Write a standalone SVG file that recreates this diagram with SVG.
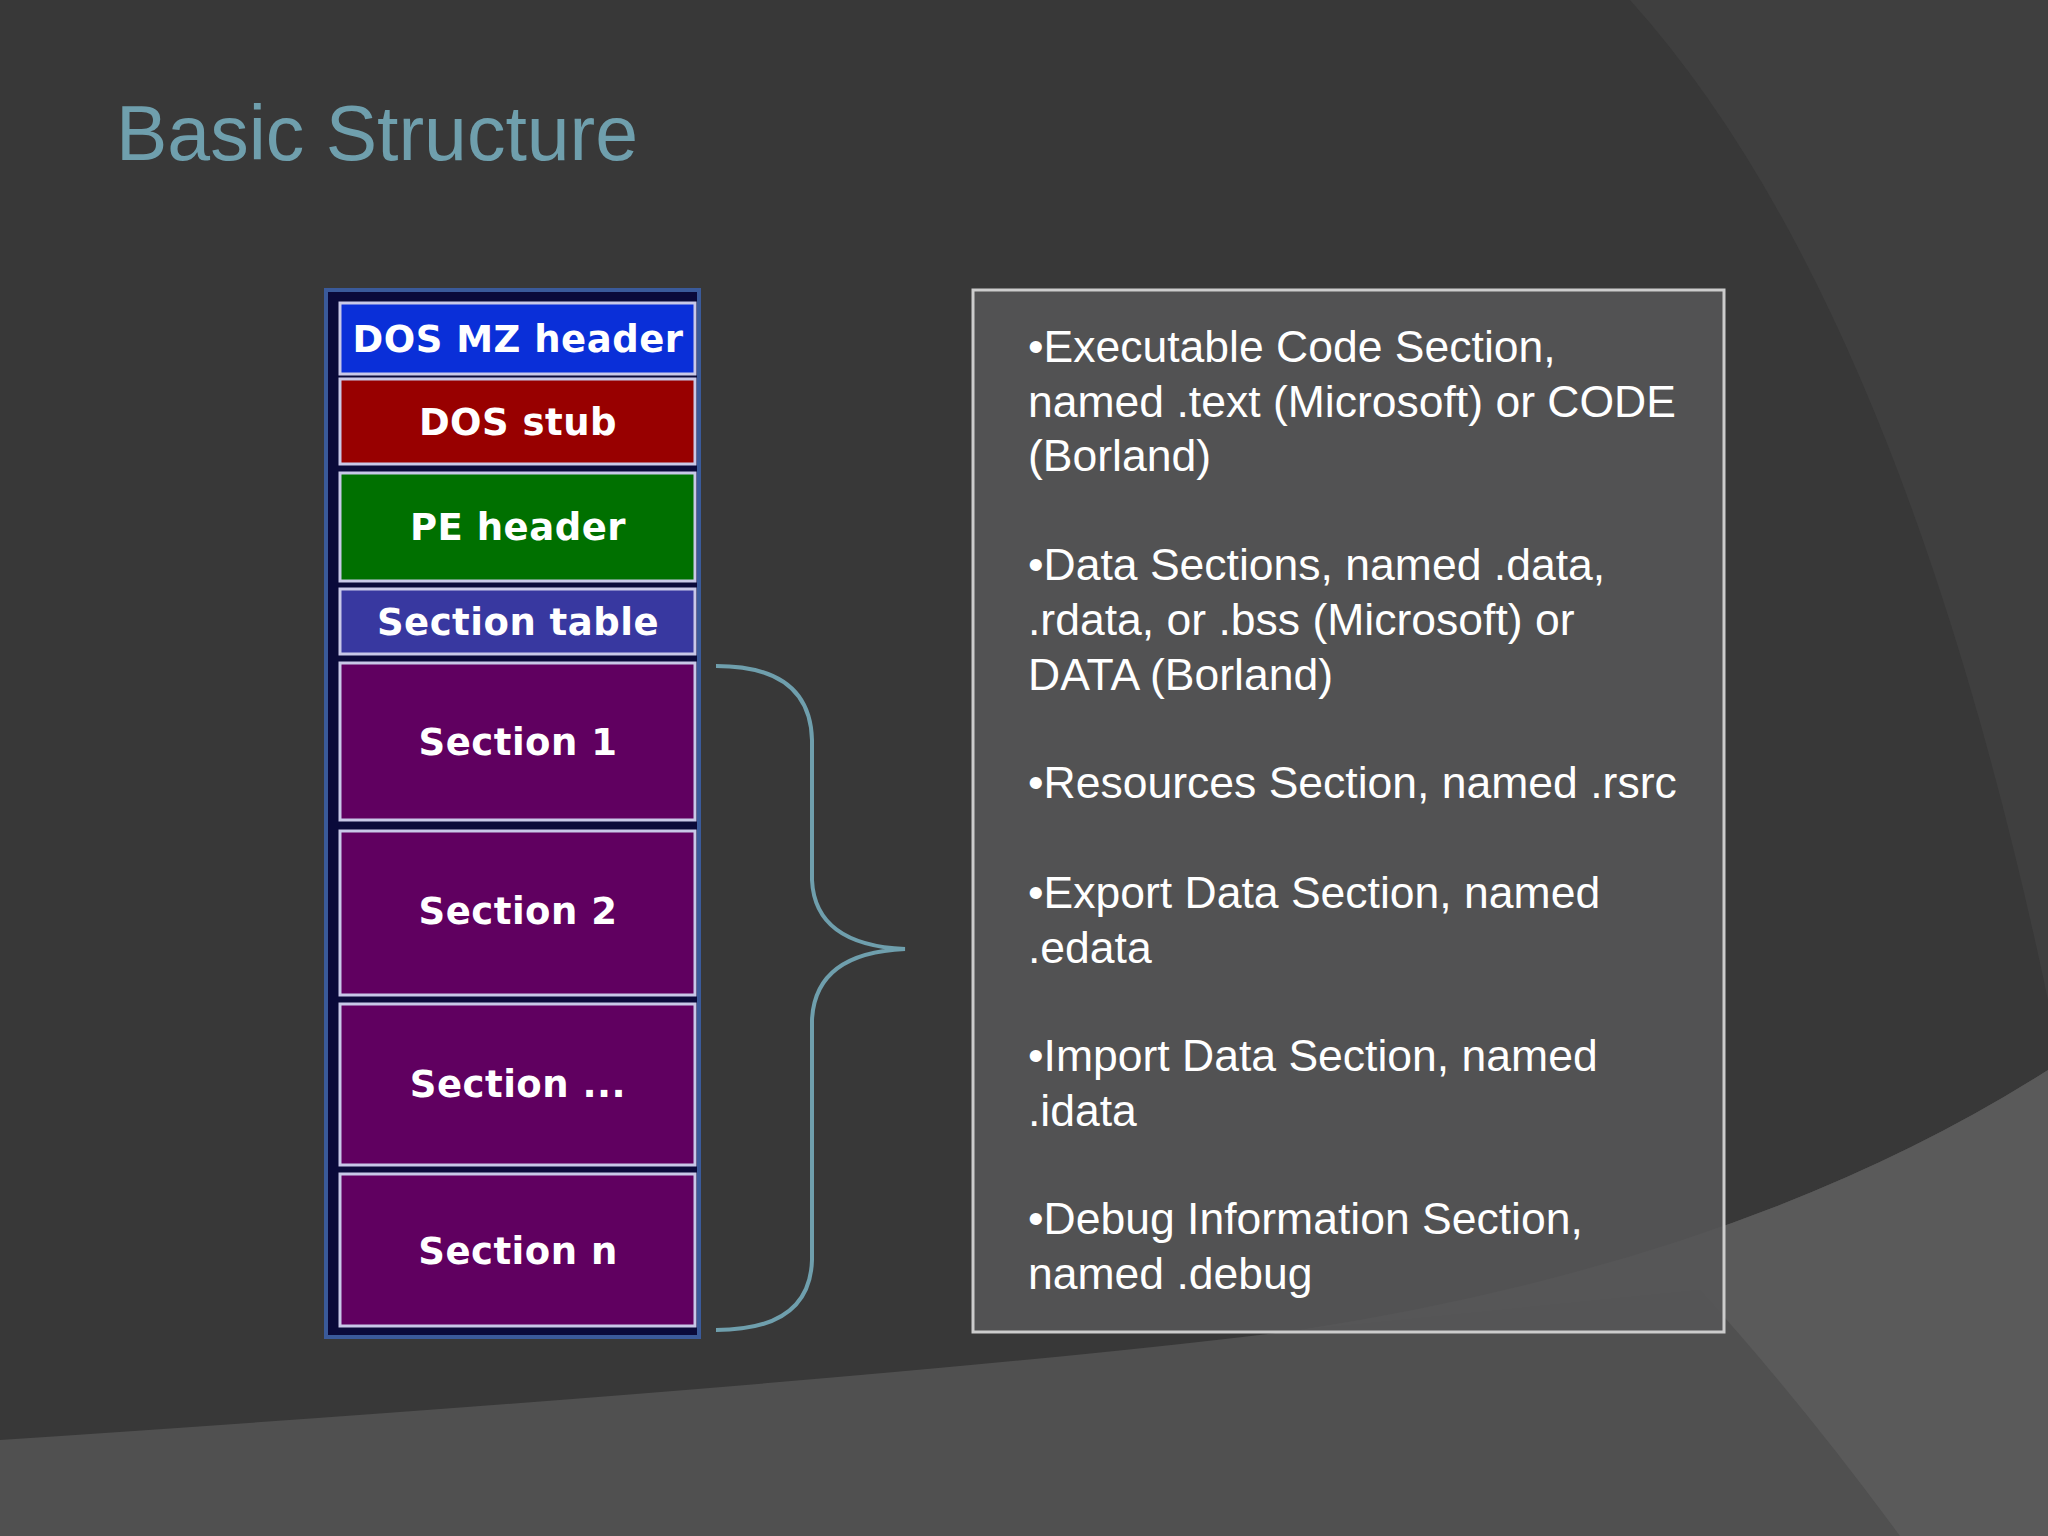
<svg xmlns="http://www.w3.org/2000/svg" width="2048" height="1536" viewBox="0 0 2048 1536">
<style>
.bx{stroke:#c8c8e8;stroke-width:3}
.bl{font-family:"DejaVu Sans",sans-serif;font-weight:bold;font-size:37px;fill:#fff;text-anchor:middle;letter-spacing:0.5px}
.rt{font-family:"Liberation Sans",Arial,sans-serif;font-size:44.5px;fill:#fff}
</style>
<rect width="2048" height="1536" fill="#383838"/>
<path d="M1630 0 Q1900 300 2048 1000 L2048 0 Z" fill="#3f3f3f"/>
<path d="M0 1440 Q900 1380 1300 1330 Q1750 1260 2048 1070 L2048 1536 L0 1536 Z" fill="#505050"/>
<path d="M1300 1330 Q1750 1260 2048 1070 L2048 1536 L1900 1536 Q1800 1400 1700 1290 Z" fill="#5a5a5a"/>
<text x="116" y="160" font-family="'Liberation Sans',Arial,sans-serif" font-size="77" fill="#6f9fad">Basic Structure</text>
<g id="stack">
<rect x="326" y="290" width="373" height="1047" fill="#0a0a3a" stroke="#3a5a9a" stroke-width="4"/>
<g id="mz"><rect class="bx" x="340" y="303" width="355" height="71" fill="#0a2fd8"/><text class="bl" x="518" y="352">DOS MZ header</text></g>
<g id="stub"><rect class="bx" x="340" y="379" width="355" height="85" fill="#980000"/><text class="bl" x="518" y="435">DOS stub</text></g>
<g id="pe"><rect class="bx" x="340" y="473" width="355" height="108" fill="#007000"/><text class="bl" x="518" y="540">PE header</text></g>
<g id="st"><rect class="bx" x="340" y="589" width="355" height="65" fill="#3838a0"/><text class="bl" x="518" y="635">Section table</text></g>
<g id="s1"><rect class="bx" x="340" y="663" width="355" height="157" fill="#600060"/><text class="bl" x="518" y="755">Section 1</text></g>
<g id="s2"><rect class="bx" x="340" y="831" width="355" height="164" fill="#600060"/><text class="bl" x="518" y="924">Section 2</text></g>
<g id="s3"><rect class="bx" x="340" y="1004" width="355" height="161" fill="#600060"/><text class="bl" x="518" y="1097">Section ...</text></g>
<g id="sn"><rect class="bx" x="340" y="1174" width="355" height="152" fill="#600060"/><text class="bl" x="518" y="1264">Section n</text></g>
</g>
<g id="connectors">
<path d="M716 666 Q810 666 812 740 L812 880 Q815 945 905 949 Q815 953 812 1020 L812 1260 Q810 1330 716 1330" fill="none" stroke="#6f9fad" stroke-width="4"/>
</g>
<g id="desc">
<rect x="973" y="290" width="751" height="1042" fill="#555557" fill-opacity="0.9" stroke="#cccccc" stroke-width="3"/>
<text class="rt"><tspan x="1028" y="362">•Executable Code Section,</tspan><tspan x="1028" y="417">named .text (Microsoft) or CODE</tspan><tspan x="1028" y="471">(Borland)</tspan>
<tspan x="1028" y="580">•Data Sections, named .data,</tspan><tspan x="1028" y="635">.rdata, or .bss (Microsoft) or</tspan><tspan x="1028" y="690">DATA (Borland)</tspan>
<tspan x="1028" y="798">•Resources Section, named .rsrc</tspan>
<tspan x="1028" y="908">•Export Data Section, named</tspan><tspan x="1028" y="963">.edata</tspan>
<tspan x="1028" y="1071">•Import Data Section, named</tspan><tspan x="1028" y="1126">.idata</tspan>
<tspan x="1028" y="1234">•Debug Information Section,</tspan><tspan x="1028" y="1289">named .debug</tspan></text>
</g>
</svg>
